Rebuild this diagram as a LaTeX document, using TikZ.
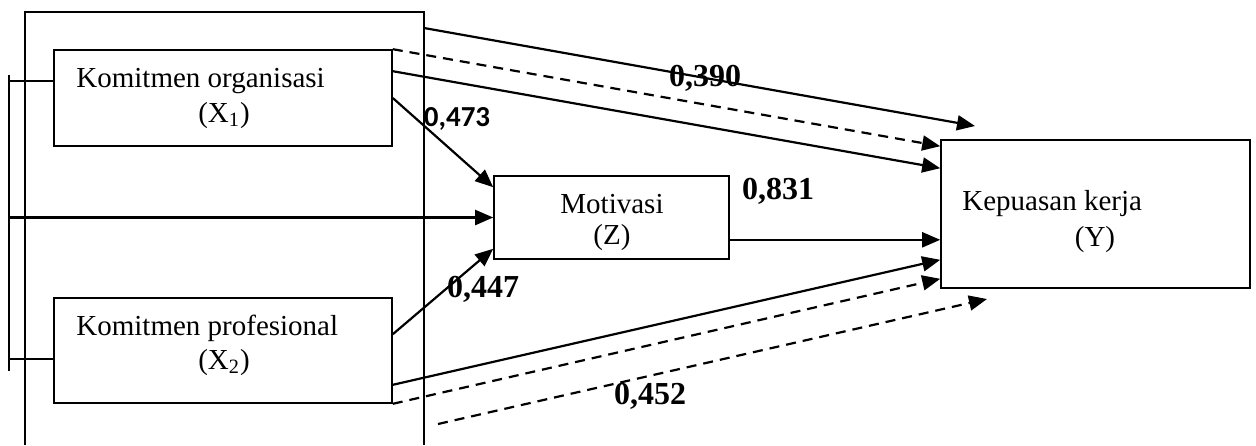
\documentclass[tikz,border=0pt]{standalone}
\usepackage{fontspec}
\setmainfont{Liberation Serif}
\newfontfamily\calibrifont{Carlito}
\usetikzlibrary{positioning}
\usetikzlibrary{arrows.meta}
\usetikzlibrary{calc}

\begin{document}
\begin{tikzpicture}[
	x=0.5pt, y=-0.5pt,
	var/.style={draw, line width=0.8pt, inner sep=0pt},
	txt/.style={inner sep=0pt, font=\fontsize{14.5}{17}\selectfont},
	coef/.style={inner sep=0pt, anchor=base, font=\fontsize{16}{19}\selectfont\bfseries},
	effect/.style={-{Triangle[length=9pt, width=7.5pt]}, line width=1.1pt},
	indirect/.style={effect, dash pattern=on 5pt off 3.5pt},
]
	\useasboundingbox (0,0) rectangle (1256,445);

	% variables
	\node[var, minimum width=169pt, minimum height=48pt] (X1) at (223,98) {};
	\node[var, minimum width=169pt, minimum height=52.5pt] (X2) at (223,350.5) {};
	\node[var, minimum width=117.5pt, minimum height=41.5pt] (Z) at (611.5,217.5) {};
	\node[var, minimum width=154.5pt, minimum height=74pt] (Y) at (1095.5,214) {};

	\node[txt, anchor=base west] (X1name) at (76,87) {Komitmen organisasi};
	\node[txt, anchor=base] (X1sym) at (224,122) {(X\textsubscript{1})};
	\node[txt, anchor=base west] (X2name) at (76,335) {Komitmen profesional};
	\node[txt, anchor=base] (X2sym) at (224,369) {(X\textsubscript{2})};
	\node[txt, anchor=base] (Zname) at (612,213) {Motivasi};
	\node[txt, anchor=base] (Zsym) at (612,244) {(Z)};
	\node[txt, anchor=base west] (Yname) at (962,210) {Kepuasan kerja};
	\node[txt, anchor=base] (Ysym) at (1095,246) {(Y)};

	% frame and bracket
	\draw[line width=0.75pt] (25,445) |- (424,12) -- (424,445);
	\coordinate (brkT) at (9,75);
	\coordinate (brkB) at (9,371);
	\coordinate (brk1) at (9,81);
	\coordinate (brk2) at (9,359);
	\coordinate (brkM) at (9,217.5);
	\draw[line width=0.8pt] (brkT) -- (brkB);
	\draw[line width=0.8pt] (brk1) -- (brk1 -| X1.west);
	\draw[line width=0.8pt] (brk2) -- (brk2 -| X2.west);
	\draw[effect] (brkM) -- (Z.west);

	% paths into Z
	\draw[effect] (X1.east) -- ($(Z.north west)+(0,12)$);
	\draw[effect] ($(X2.north east)+(0,37)$) -- ($(Z.south west)+(0,-11)$);

	% paths into Y
	\coordinate (fr) at (424,28);
	\coordinate (topend) at (975,126);
	\coordinate (lowstart) at (438,424);
	\coordinate (lowend) at (987,299);
	\coordinate (zout) at ($(Z.south east)+(0,-20)$);
	\draw[effect] (fr) -- (topend);
	\draw[indirect] (X1.north east) -- ($(Y.north west)+(0,7)$);
	\draw[effect] ($(X1.north east)+(0,22)$) -- ($(Y.north west)+(0,29)$);
	\draw[effect] (zout) -- (zout -| Y.west);
	\draw[effect] ($(X2.south east)+(0,-19)$) -- ($(Y.south west)+(0,-29)$);
	\draw[indirect] (X2.south east) -- ($(Y.south west)+(0,-10)$);
	\draw[indirect] (lowstart) -- (lowend);

	% coefficients
	\node[coef] (c390) at (705,86) {0,390};
	\node[coef, font=\calibrifont\fontsize{14.5}{17}\selectfont\bfseries] (c473) at (457,126) {0,473};
	\node[coef] (c831) at (778,199) {0,831};
	\node[coef] (c447) at (483,297) {0,447};
	\node[coef] (c452) at (650,404) {0,452};
\end{tikzpicture}
\end{document}
